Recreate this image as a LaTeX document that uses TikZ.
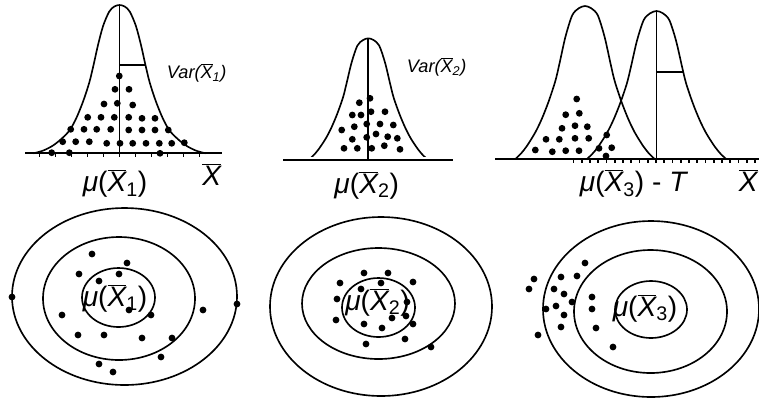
\documentclass[tikz,border=0pt]{standalone}
\usepackage{fontspec}
\setmainfont{Liberation Sans}
\newcommand{\xbar}{\ensuremath{\overline{\mbox{\itshape X}}}}
\newcommand{\meanof}[1]{\textit{μ}(\xbar\textsubscript{#1})}
% bell with long tails: centre x, base y, half width, height
\newcommand{\bellwide}[4]{%
  \begin{scope}[shift={(#1,#2)},xscale=#3,yscale=#4]
    \draw[curve] plot[smooth] coordinates {(-1,0) (-0.89,-0.018) (-0.78,-0.05) (-0.68,-0.095)
      (-0.58,-0.155) (-0.5,-0.24) (-0.42,-0.355) (-0.35,-0.48) (-0.3,-0.6) (-0.25,-0.73)
      (-0.19,-0.86) (-0.12,-0.955) (-0.06,-0.99) (0,-1) (0.06,-0.99) (0.12,-0.955)
      (0.19,-0.86) (0.25,-0.73) (0.3,-0.6) (0.35,-0.48) (0.42,-0.355) (0.5,-0.24)
      (0.58,-0.155) (0.68,-0.095) (0.78,-0.05) (0.89,-0.018) (1,0)};
  \end{scope}}
% bell with short tails
\newcommand{\bellnarrow}[4]{%
  \begin{scope}[shift={(#1,#2)},xscale=#3,yscale=#4]
    \draw[curve] plot[smooth] coordinates {(-1,0) (-0.92,-0.035) (-0.833,-0.085) (-0.711,-0.175)
      (-0.616,-0.265) (-0.519,-0.378) (-0.423,-0.512) (-0.365,-0.624) (-0.279,-0.8)
      (-0.183,-0.939) (-0.09,-0.985) (0,-1) (0.09,-0.985) (0.183,-0.939) (0.279,-0.8)
      (0.365,-0.624) (0.423,-0.512) (0.519,-0.378) (0.616,-0.265) (0.711,-0.175)
      (0.833,-0.085) (0.92,-0.035) (1,0)};
  \end{scope}}
\begin{document}
\begin{tikzpicture}[x=0.3mm,y=-0.3mm,line width=1.4pt,
    curve/.style={line width=1.4pt,line join=round},
    biglab/.style={inner sep=0pt,anchor=base,font=\fontsize{24}{28}\selectfont},
    varlab/.style={inner sep=0pt,anchor=base,font=\fontsize{15.5}{18}\selectfont\itshape}]
  \useasboundingbox (0,0) rectangle (759,402);
  % first sample, top
  \draw (25,153.3) -- (222,153.3);
  \foreach \k in {-5,...,5} \draw (119.5+16*\k,153.3) -- ++(0,3.5);
  \bellwide{119.5}{153.3}{86}{148.3}
  \draw (119.5,5) -- (119.5,153.3);
  \draw (119.5,65) -- (145.5,65);
  \foreach \x/\y in {119.3/76, 115/89.3, 129/89.3, 104/104, 117.3/103.3, 132.7/105,
      87.7/117.3, 101/117.3, 114.3/117.3, 128.7/117.3, 142/118.3, 155/118.3,
      70.7/129.3, 84/129.3, 96.7/129.3, 110.7/129.3, 128.7/130, 142/130, 155/130, 168.3/130,
      62.7/141.7, 75.7/141.7, 89.3/141.7, 106.7/143.3, 120/143.3, 132.7/143.3, 146/143.3,
      159.3/143.3, 171.7/143.3, 184.3/142.7, 51.7/152.7, 69.3/152.7, 160/153.3}
    \fill (\x,\y) circle[radius=3.4];
  \node[varlab] (var1) at (196.7,78.3) {Var(\xbar\textsubscript{1})};
  \node[biglab] (mu1) at (115,191.7) {\meanof{1}};
  \node[biglab] (xa) at (211.7,185) {\xbar};
  % second sample, top
  \draw (283,160) -- (453,160);
  \begin{scope}
    \clip (300,0) rectangle (440,156.5);
    \bellnarrow{368.3}{160}{60}{121.7}
  \end{scope}
  \draw (368.3,38.3) -- (368.3,160);
  \foreach \x/\y in {370/98.3, 359.3/102.7, 352.3/115, 361/115, 371/111.7, 385/111.7,
      354.3/126.7, 366.7/124, 380/124, 393.3/125, 341.7/130, 376/134, 387.7/136.7,
      397.3/138.3, 352.3/139.3, 366.7/137.3, 344/148.3, 357.3/148.3, 371.7/148.3,
      384.3/145.7, 400/149.3}
    \fill (\x,\y) circle[radius=3.4];
  \node[varlab] (var2) at (436.7,72.7) {Var(\xbar\textsubscript{2})};
  \node[biglab] (mu2) at (366.7,193) {\meanof{2}};
  % third sample, top
  \draw (495,159.3) -- (759,159.3);
  \foreach \k in {0,...,22} \draw (573.5+8.25*\k,159.3) -- ++(0,3.5);
  \bellnarrow{585}{159.3}{70}{153.3}
  \bellnarrow{656.5}{159.3}{70}{148.3}
  \draw (656.5,11) -- (656.5,159.3);
  \draw (656.5,71.7) -- (683,71.7);
  \foreach \x/\y in {576.7/99, 565.7/114.7, 579.3/113.3, 562/128.3, 575/125.7, 587.3/126.7,
      546/139.3, 559.3/139.3, 575/138.3, 588.7/138.3, 606.7/135, 535.3/150, 552.3/151.7,
      565.7/150.7, 579/150.7, 599/148.3, 611.7/147.7, 606/156}
    \fill (\x,\y) circle[radius=3.4];
  \node[biglab] (mu3) at (634,191.7) {\meanof{3} - \textit{T}};
  \node[biglab] (xb) at (748.3,191.7) {\xbar};
  % targets, bottom
  \draw (124.5,296.5) ellipse[x radius=112.5,y radius=88.5];
  \draw (119,298.5) ellipse[x radius=76,y radius=61.5];
  \draw (118.5,297.5) ellipse[x radius=36.5,y radius=29.5];
  \node[biglab] (t1) at (115,306.5) {\meanof{1}};
  \foreach \x/\y in {92/254, 127/263, 79/274, 119/274, 99/281, 12/297, 237/304, 203/310,
      129/310, 151/315, 62/315, 78/335, 104/335, 142/338, 172/338, 161/357, 99/364, 113/372}
    \fill (\x,\y) circle[radius=3.4];
  \draw (381,306.5) ellipse[x radius=111,y radius=89.5];
  \draw (378.5,303.5) ellipse[x radius=76.5,y radius=55.5];
  \draw (378.5,307.5) ellipse[x radius=36.5,y radius=29.5];
  \node[biglab] (t2) at (377.5,310) {\meanof{2}};
  \foreach \x/\y in {364/273, 388/273, 340/283, 381/283, 413/282, 361/289, 337/299,
      407/302, 336/320, 364/324, 382/328, 392/318, 406/316, 413/324, 366/344, 405/339, 431/347}
    \fill (\x,\y) circle[radius=3.4];
  \draw (651,309) ellipse[x radius=108,y radius=88];
  \draw (650.5,311.5) ellipse[x radius=76.5,y radius=61.5];
  \draw (651,309.5) ellipse[x radius=36,y radius=28.5];
  \node[biglab] (t3) at (645,316) {\meanof{3}};
  \foreach \x/\y in {585/263, 534/279, 561/277, 577/276, 529/289, 554/289, 564/294,
      572/302, 592/297, 546/309, 556/306, 592/309, 564/315, 561/327, 596/328, 538/335, 613/347}
    \fill (\x,\y) circle[radius=3.4];
\end{tikzpicture}
\end{document}
